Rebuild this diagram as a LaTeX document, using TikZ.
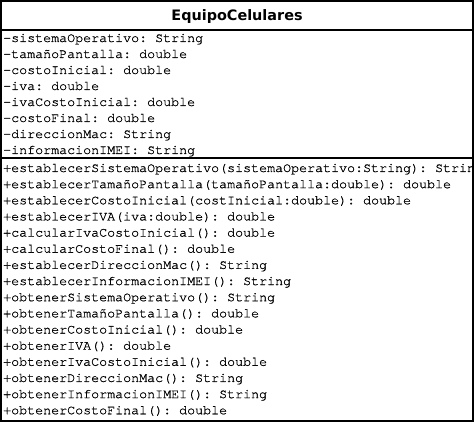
\documentclass[tikz,border=0pt]{standalone}
\usepackage{fontspec}
\setmonofont[FakeBold=0.8]{texgyrecursor-regular.otf}
\newfontfamily\clasefont{DejaVu Sans}
\usetikzlibrary{positioning}
\tikzset{
    caja/.style={line width=2pt},
    titulo/.style={anchor=base, inner sep=0pt, font=\clasefont\bfseries\fontsize{14.4}{16}\selectfont},
    miembro/.style={anchor=base west, inner sep=0pt, font=\ttfamily\fontsize{13.33}{14}\selectfont},
}
\begin{document}
\begin{tikzpicture}[x=1pt,y=1pt]
    \useasboundingbox (0,0) rectangle (474,-422);
    % nombre de la clase
    \node[titulo] (clase) at (237,-21) {EquipoCelulares};
    \begin{scope}
        \clip (0,0) rectangle (472,-422);
        % atributos
        \foreach \txt [count=\i] in {
            -sistemaOperativo: String,
            -tamañoPantalla: double,
            -costoInicial: double,
            -iva: double,
            -ivaCostoInicial: double,
            -costoFinal: double,
            -direccionMac: String,
            -informacionIMEI: String}
            \node[miembro] (atr\i) at (3,{-42-16*(\i-1)}) {\txt};
        % metodos
        \foreach \txt [count=\i] in {
            +establecerSistemaOperativo(sistemaOperativo:String): String,
            +establecerTamañoPantalla(tamañoPantalla:double): double,
            +establecerCostoInicial(costInicial:double): double,
            +establecerIVA(iva:double): double,
            +calcularIvaCostoInicial(): double,
            +calcularCostoFinal(): double,
            +establecerDireccionMac(): String,
            +establecerInformacionIMEI(): String,
            +obtenerSistemaOperativo(): String,
            +obtenerTamañoPantalla(): double,
            +obtenerCostoInicial(): double,
            +obtenerIVA(): double,
            +obtenerIvaCostoInicial(): double,
            +obtenerDireccionMac(): String,
            +obtenerInformacionIMEI(): String,
            +obtenerCostoFinal(): double}
            \node[miembro] (met\i) at (3,{-172-16.15*(\i-1)}) {\txt};
    \end{scope}
    % marco y separadores
    \draw[caja] (1,-1) rectangle (473,-421);
    \draw[caja] (0,-30) -- (474,-30);
    \draw[caja] (0,-158) -- (474,-158);
\end{tikzpicture}
\end{document}
